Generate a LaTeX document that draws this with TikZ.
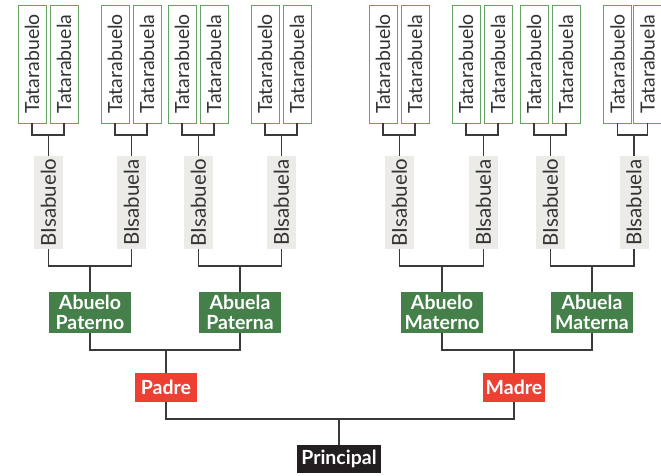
\documentclass[tikz,border=0pt]{standalone}
\usepackage{fontspec}
\setmainfont{Lato}
\usepackage{tikz}

\definecolor{tataline}{HTML}{63A463}
\definecolor{bisfill}{HTML}{ECEBE7}
\definecolor{abuefill}{HTML}{45804A}
\definecolor{padrefill}{HTML}{EE3F33}
\definecolor{princfill}{HTML}{231F20}
\definecolor{linkgray}{HTML}{3A3A3A}
\definecolor{txtgray}{HTML}{333333}

\begin{document}
\begin{tikzpicture}[
  x=1pt, y=-1pt,
  font=\fontsize{19.5}{21}\selectfont,
  tata/.style  ={rectangle, draw=tataline, line width=0.8pt, fill=white,
                 minimum width=28pt, minimum height=118pt, inner sep=0pt, text=txtgray},
  bis/.style   ={rectangle, fill=bisfill, minimum width=29pt, minimum height=93pt,
                 inner sep=0pt, text=txtgray, font=\fontsize{20.5}{22}\selectfont},
  abue/.style  ={rectangle, fill=abuefill, text=white, minimum width=82pt, minimum height=41pt,
                 inner sep=0pt, align=center, font=\fontsize{19.5}{19.5}\selectfont\bfseries},
  padres/.style={rectangle, fill=padrefill, text=white, minimum width=62pt, minimum height=29pt,
                 inner sep=0pt, font=\fontsize{19.5}{19.5}\selectfont\bfseries},
  princ/.style ={rectangle, fill=princfill, text=white, minimum width=84pt, minimum height=28pt,
                 inner sep=0pt, font=\fontsize{19.5}{19.5}\selectfont\bfseries},
  link/.style  ={draw=linkgray, line width=1.4pt}
]
\useasboundingbox (0,0) rectangle (661,475);

% tatarabuelos
\node[tata] (tata1)  at (32,64)    {\rotatebox{90}{Tatarabuelo}};
\node[tata] (tata2)  at (64,64)    {\rotatebox{90}{Tatarabuela}};
\node[tata] (tata3)  at (115,64)   {\rotatebox{90}{Tatarabuelo}};
\node[tata] (tata4)  at (147,64)   {\rotatebox{90}{Tatarabuela}};
\node[tata] (tata5)  at (182,64)   {\rotatebox{90}{Tatarabuelo}};
\node[tata] (tata6)  at (214,64)   {\rotatebox{90}{Tatarabuela}};
\node[tata] (tata7)  at (265,64)   {\rotatebox{90}{Tatarabuelo}};
\node[tata] (tata8)  at (297,64)   {\rotatebox{90}{Tatarabuela}};
\node[tata] (tata9)  at (383,64)   {\rotatebox{90}{Tatarabuelo}};
\node[tata] (tata10) at (415,64)   {\rotatebox{90}{Tatarabuela}};
\node[tata] (tata11) at (466,64)   {\rotatebox{90}{Tatarabuelo}};
\node[tata] (tata12) at (498,64)   {\rotatebox{90}{Tatarabuela}};
\node[tata] (tata13) at (534,64)   {\rotatebox{90}{Tatarabuelo}};
\node[tata] (tata14) at (566,64)   {\rotatebox{90}{Tatarabuela}};
\node[tata] (tata15) at (617.5,64) {\rotatebox{90}{Tatarabuelo}};
\node[tata] (tata16) at (647.5,64) {\rotatebox{90}{Tatarabuela}};

% bisabuelos
\node[bis] (bis1) at (48.5,202.5)  {\rotatebox{90}{BIsabuelo}};
\node[bis] (bis2) at (131.5,202.5) {\rotatebox{90}{BIsabuela}};
\node[bis] (bis3) at (198.5,202.5) {\rotatebox{90}{BIsabuelo}};
\node[bis] (bis4) at (281.5,202.5) {\rotatebox{90}{BIsabuela}};
\node[bis] (bis5) at (399.5,202.5) {\rotatebox{90}{BIsabuelo}};
\node[bis] (bis6) at (483.5,202.5) {\rotatebox{90}{BIsabuela}};
\node[bis] (bis7) at (550.5,202.5) {\rotatebox{90}{BIsabuelo}};
\node[bis] (bis8) at (634,202.5)   {\rotatebox{90}{BIsabuela}};

% abuelos, padres
\node[abue] (abpat)  at (90,312.5)  {Abuelo\\Paterno};
\node[abue] (abapat) at (240,312.5) {Abuela\\Paterna};
\node[abue] (abmat)  at (442,312.5) {Abuelo\\Materno};
\node[abue] (abamat) at (592,312.5) {Abuela\\Materna};
\node[padres] (padre) at (166,387.5) {Padre};
\node[padres] (madre) at (514,387.5) {Madre};
\node[princ] (principal) at (339,459) {Principal};

% junctions
\coordinate (jt1) at (48.5,135);  \coordinate (jt2) at (131.5,135);
\coordinate (jt3) at (198.5,135); \coordinate (jt4) at (281.5,135);
\coordinate (jt5) at (399.5,135); \coordinate (jt6) at (483.5,135);
\coordinate (jt7) at (550.5,135); \coordinate (jt8) at (634,135);
\coordinate (jb1) at (90,266);    \coordinate (jb2) at (240,266);
\coordinate (jb3) at (442,266);   \coordinate (jb4) at (592,266);
\coordinate (ja1) at (166,350);   \coordinate (ja2) at (514,350);
\coordinate (jp)  at (339,419);

\draw[link] (tata1.south)  |- (jt1) -| (tata2.south);  \draw[link] (jt1) -- (bis1.north);
\draw[link] (tata3.south)  |- (jt2) -| (tata4.south);  \draw[link] (jt2) -- (bis2.north);
\draw[link] (tata5.south)  |- (jt3) -| (tata6.south);  \draw[link] (jt3) -- (bis3.north);
\draw[link] (tata7.south)  |- (jt4) -| (tata8.south);  \draw[link] (jt4) -- (bis4.north);
\draw[link] (tata9.south)  |- (jt5) -| (tata10.south); \draw[link] (jt5) -- (bis5.north);
\draw[link] (tata11.south) |- (jt6) -| (tata12.south); \draw[link] (jt6) -- (bis6.north);
\draw[link] (tata13.south) |- (jt7) -| (tata14.south); \draw[link] (jt7) -- (bis7.north);
\draw[link] (tata15.south) |- (jt8) -| (tata16.south); \draw[link] (jt8) -- (bis8.north);

\draw[link] (bis1.south) |- (jb1) -| (bis2.south); \draw[link] (jb1) -- (abpat.north);
\draw[link] (bis3.south) |- (jb2) -| (bis4.south); \draw[link] (jb2) -- (abapat.north);
\draw[link] (bis5.south) |- (jb3) -| (bis6.south); \draw[link] (jb3) -- (abmat.north);
\draw[link] (bis7.south) |- (jb4) -| (bis8.south); \draw[link] (jb4) -- (abamat.north);

\draw[link] (abpat.south) |- (ja1) -| (abapat.south); \draw[link] (ja1) -- (padre.north);
\draw[link] (abmat.south) |- (ja2) -| (abamat.south); \draw[link] (ja2) -- (madre.north);

\draw[link] (padre.south) |- (jp) -| (madre.south); \draw[link] (jp) -- (principal.north);
\end{tikzpicture}
\end{document}
